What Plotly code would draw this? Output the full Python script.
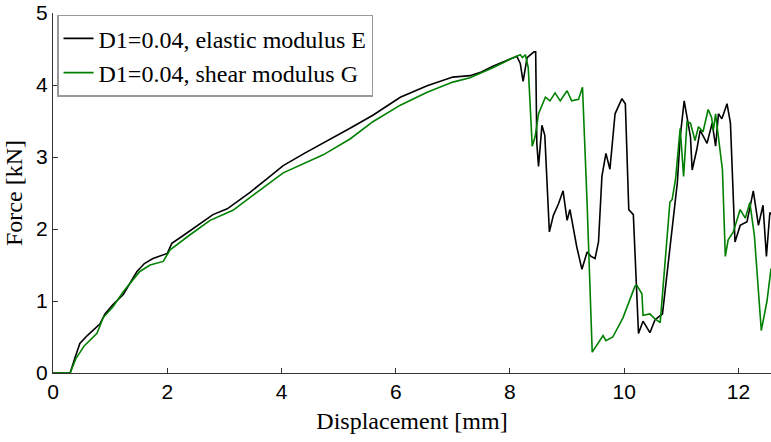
import plotly.graph_objects as go

# Black: D1=0.04, elastic modulus E
x_e = [0, 0.3, 0.38, 0.47, 0.6, 0.82, 0.91, 1.05, 1.23, 1.35, 1.47, 1.6, 1.75, 2.0, 2.08,
       2.3, 2.5, 2.69, 2.8, 3.05, 3.45, 3.75, 4.03, 4.4, 4.73, 5.2, 5.6, 6.08, 6.55, 7.0,
       7.3, 7.5, 7.7, 7.94, 8.12, 8.18, 8.23, 8.30, 8.42, 8.45, 8.47, 8.50, 8.56, 8.61,
       8.67, 8.69, 8.76, 8.85, 8.93, 9.0, 9.05, 9.17, 9.26, 9.35, 9.42, 9.49, 9.55, 9.61,
       9.68, 9.75, 9.84, 9.96, 10.02, 10.07, 10.08, 10.16, 10.25, 10.33, 10.45, 10.54,
       10.67, 10.8, 10.93, 10.98, 11.05, 11.16, 11.19, 11.27, 11.33, 11.45, 11.54, 11.6,
       11.65, 11.71, 11.80, 11.86, 11.91, 11.94, 12.03, 12.15, 12.26, 12.35, 12.43, 12.49,
       12.55, 12.57]
y_e = [0, 0, 0.2, 0.41, 0.52, 0.68, 0.82, 0.95, 1.09, 1.25, 1.41, 1.52, 1.59, 1.66, 1.80,
       1.92, 2.03, 2.14, 2.2, 2.28, 2.51, 2.70, 2.88, 3.05, 3.19, 3.40, 3.58, 3.83, 3.99, 4.11,
       4.13, 4.18, 4.26, 4.34, 4.40, 4.30, 4.05, 4.38, 4.46, 4.46, 3.19, 2.87, 3.44, 3.30,
       2.37, 1.96, 2.19, 2.35, 2.53, 2.12, 2.27, 1.75, 1.44, 1.68, 1.62, 1.59, 1.82, 2.73,
       3.05, 2.83, 3.60, 3.81, 3.74, 2.55, 2.27, 2.20, 0.55, 0.72, 0.56, 0.74,
       0.82, 1.73, 2.64, 3.28, 3.78, 3.28, 2.82, 3.1, 3.37, 3.19, 3.47, 3.15,
       3.60, 3.53, 3.74, 3.47, 2.37, 1.82, 2.05, 2.1, 2.53, 2.05, 2.33, 1.62,
       2.23, 2.2]

# Green: D1=0.04, shear modulus G
x_g = [0, 0.3, 0.4, 0.55, 0.77, 0.88, 1.05, 1.23, 1.52, 1.7, 1.93, 2.05, 2.4, 2.75, 3.15,
       3.57, 4.03, 4.73, 5.2, 5.6, 6.08, 6.55, 7.0, 7.3, 7.7, 8.06, 8.18, 8.22, 8.27, 8.32,
       8.39, 8.44, 8.5, 8.62, 8.7, 8.79, 8.88, 9.0, 9.08, 9.2, 9.27, 9.35, 9.44, 9.63, 9.68,
       9.8, 9.98, 10.19, 10.22, 10.31, 10.33, 10.45, 10.53, 10.63, 10.8, 10.84, 10.9, 10.98,
       11.04, 11.1, 11.16, 11.24, 11.3, 11.38, 11.47, 11.53, 11.56, 11.6, 11.65, 11.72,
       11.77, 11.82, 11.91, 12.03, 12.12, 12.2, 12.28, 12.4, 12.5, 12.57]
y_g = [0, 0, 0.2, 0.38, 0.55, 0.77, 0.92, 1.13, 1.41, 1.5, 1.55, 1.71, 1.92, 2.12, 2.26,
       2.51, 2.78, 3.03, 3.25, 3.49, 3.72, 3.90, 4.04, 4.1, 4.24, 4.38, 4.42, 4.38, 4.42, 4.24,
       3.15, 3.28, 3.6, 3.83, 3.78, 3.89, 3.78, 3.92, 3.78, 3.80, 3.97, 2.37, 0.29, 0.52, 0.45,
       0.5, 0.77, 1.21, 1.22, 1.1, 0.8, 0.82, 0.76, 0.70, 2.37, 2.41, 2.7, 3.40,
       2.73, 3.49, 3.47, 3.23, 3.42, 3.35, 3.66, 3.55, 3.37, 3.6, 3.28, 2.82,
       1.62, 1.85, 1.96, 2.27, 2.15, 2.37, 1.9, 0.59, 1.0, 1.45]

x_ticks = [0, 2, 4, 6, 8, 10, 12]
y_ticks = [0, 1, 2, 3, 4, 5]

fig = go.Figure()
fig.add_trace(go.Scatter(x=x_e, y=y_e, mode="lines", name="D1=0.04, elastic modulus E",
                         line=dict(color="black", width=1.6)))
fig.add_trace(go.Scatter(x=x_g, y=y_g, mode="lines", name="D1=0.04, shear modulus G",
                         line=dict(color="#008000", width=1.6)))

axis_common = dict(showgrid=False, zeroline=False, showline=True, linecolor="#333",
                   linewidth=1, ticks="inside", ticklen=5, tickcolor="#333",
                   tickfont=dict(family="Liberation Sans, Arial", size=21, color="black"))

serif = "Liberation Serif, Times New Roman"

fig.update_layout(
    width=771, height=442,
    margin=dict(l=53, r=0, t=13, b=69),
    plot_bgcolor="white", paper_bgcolor="white",
    xaxis=dict(range=[0, 12.57], tickvals=x_ticks, ticktext=[str(v) for v in x_ticks],
               title=dict(text="Displacement [mm]", standoff=9,
                          font=dict(family=serif, size=24, color="black")),
               **axis_common),
    yaxis=dict(range=[0, 5], tickvals=y_ticks, ticktext=[str(v) for v in y_ticks],
               title=dict(text="Force [kN]", standoff=6,
                          font=dict(family=serif, size=24, color="black")),
               **axis_common),
    legend=dict(x=0.0056, y=0.995, xanchor="left", yanchor="top",
                bgcolor="white", bordercolor="#999", borderwidth=1.5,
                font=dict(family=serif, size=24, color="black"),
                itemwidth=30, tracegroupgap=0),
    showlegend=True,
)

fig.write_html("out.html")
